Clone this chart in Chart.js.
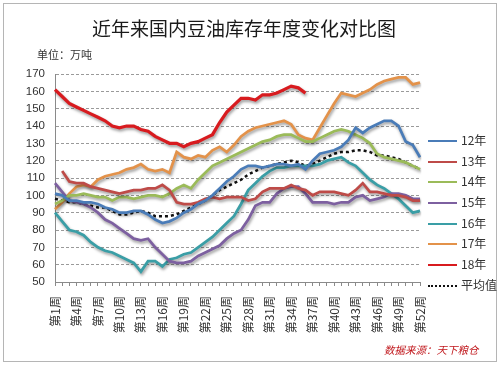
<!DOCTYPE html>
<html>
<head>
<meta charset="utf-8">
<script src="https://cdn.jsdelivr.net/npm/chart.js@4.4.0/dist/chart.umd.min.js"></script>
<style>
  body { margin: 0; background: #fff; }
  #wrap { position: relative; width: 500px; height: 365px; font-family: "Noto Sans CJK SC", "Liberation Sans", sans-serif; }
  #frame { position: absolute; left: 3px; top: 3px; width: 494px; height: 359px; border: 1px solid #b5b5b5; box-sizing: border-box; }
  #title { position: absolute; left: 0; width: 488px; top: 14px; text-align: center; font-size: 19px; color: #1a1a1a; }
  #unit { position: absolute; left: 37px; top: 46px; font-size: 11px; color: #333; }
  #source { position: absolute; left: 384px; top: 342px; font-size: 10.5px; color: #c0161b; font-style: italic; }
  #legend { position: absolute; left: 428px; top: 0; }
  .item { position: absolute; left: 0; width: 70px; height: 16px; font-size: 12px; color: #333; }
  .item span.ln { position: absolute; left: 0; top: 8px; width: 29px; height: 0; }
  .item span.tx { position: absolute; left: 33px; top: -1px; }
  canvas { position: absolute; left: 0; top: 0; }
</style>
</head>
<body>
<div id="wrap">
  <canvas id="stockChart" width="500" height="365"></canvas>
  <div id="frame"></div>
  <div id="title">近年来国内豆油库存年度变化对比图</div>
  <div id="unit">单位：万吨</div>
  <div id="legend"></div>
  <div id="source">数据来源：天下粮仓</div>
</div>
<script>
  // weeks on the x axis
  var weeks = ['第1周','第2周','第3周','第4周','第5周','第6周','第7周','第8周','第9周','第10周',
    '第11周','第12周','第13周','第14周','第15周','第16周','第17周','第18周','第19周','第20周',
    '第21周','第22周','第23周','第24周','第25周','第26周','第27周','第28周','第29周','第30周',
    '第31周','第32周','第33周','第34周','第35周','第36周','第37周','第38周','第39周','第40周',
    '第41周','第42周','第43周','第44周','第45周','第46周','第47周','第48周','第49周','第50周',
    '第51周','第52周'];
  // only every third week gets a label
  var weekTicks = ['第1周','第4周','第7周','第10周','第13周','第16周','第19周','第22周','第25周',
    '第28周','第31周','第34周','第37周','第40周','第43周','第46周','第49周','第52周'];
  var yTicks = [50, 60, 70, 80, 90, 100, 110, 120, 130, 140, 150, 160, 170];

  var seriesNames = ['12年', '13年', '14年', '15年', '16年', '17年', '18年', '平均值'];

  var y12 = [101,100,97,97,96,96,95,93,92,90, 90,91,91,89,86,84,85,87,90,92,
    95,97,100,104,108,111,115,117,117,116, 117,118,118,117,118,115,120,124,125,126,
    128,132,139,136,139,141,143,143,140,131, 129,122];
  var y13 = [null,114,108,107,107,105,104,103,102,101, 102,103,103,104,104,106,103,96,95,95,
    96,98,99,98,99,99,99,97,98,102, 104,104,104,106,104,103,100,102,102,102,
    101,100,103,107,102,102,101,100,100,99, 97,97];
  var y14 = [95,97,100,100,101,100,99,99,97,99, 99,98,99,100,100,99,101,104,106,104,
    109,113,117,119,121,123,125,127,129,131, 132,134,135,135,133,131,131,133,135,137,
    138,137,135,133,130,124,122,121,120,119, 117,115];
  var y15 = [107,102,97,96,95,93,90,86,84,81, 78,75,74,75,70,66,62,61,61,62,
    65,67,69,71,75,78,80,86,94,96, 96,101,104,105,105,101,96,96,96,95,
    96,96,99,100,97,98,99,101,101,100, 98,98];
  var y16 = [90,85,80,79,77,73,70,68,67,65, 63,61,56,62,62,59,63,64,66,67,
    70,73,76,80,84,88,95,103,107,111, 114,116,116,117,117,117,117,118,120,121,
    122,119,117,113,109,106,104,101,98,94, 90,91];
  var y17 = [92,96,101,105,106,105,109,111,112,113, 115,116,118,115,114,115,113,125,122,121,
    123,122,126,128,125,129,134,137,139,140, 141,142,143,141,135,133,132,139,146,153,
    159,158,157,159,161,164,166,167,168,168, 164,165];
  var y18 = [161,157,153,151,149,147,145,143,140,139, 140,140,138,137,134,132,130,130,128,130,
    131,133,135,142,148,152,156,156,155,158, 158,159,161,163,162,159];
  var yAvg = [98,97,96,96,95,94,93,93,91,89, 89,90,91,90,88,88,88,89,91,93,
    95,97,100,103,105,107,109,112,114,116, 117,118,119,120,119,117,118,120,122,124,
    125,125,126,126,125,123,123,122,121,119, 117,115];

  var colors = ['#4a7cb8', '#be4b48', '#9bbb59', '#7d60a0', '#3a9ea6', '#e3924a', '#d81b1f', '#111'];

  function line(i, data, width) {
    return {
      label: seriesNames[i],
      data: data,
      borderColor: colors[i],
      backgroundColor: colors[i],
      borderWidth: width,
      pointRadius: 0,
      fill: false,
      tension: 0,
      spanGaps: false
    };
  }

  var datasets = [
    line(0, y12, 2.75), line(1, y13, 2.75), line(2, y14, 2.75), line(3, y15, 2.75),
    line(4, y16, 2.75), line(5, y17, 2.75), line(6, y18, 3.25)
  ];
  var avgSet = line(7, yAvg, 2.5);
  avgSet.borderDash = [3, 3];
  datasets.push(avgSet);

  // soft drop shadow under the coloured lines, like the Excel original
  var shadowPlugin = {
    id: 'lineShadow',
    beforeDatasetDraw: function(chart, args) {
      if (args.index === 7) return;
      var c = chart.ctx;
      c.save();
      c.shadowColor = 'rgba(0,0,0,0.4)';
      c.shadowBlur = 3;
      c.shadowOffsetX = 1;
      c.shadowOffsetY = 2;
    },
    afterDatasetDraw: function(chart, args) {
      if (args.index === 7) return;
      chart.ctx.restore();
    }
  };

  var ctx = document.getElementById('stockChart').getContext('2d');
  var stockChart = new Chart(ctx, {
    type: 'line',
    data: { labels: weeks, datasets: datasets },
    plugins: [shadowPlugin],
    options: {
      responsive: false,
      animation: false,
      layout: { padding: { left: 15, right: 80, top: 74, bottom: 22 } },
      plugins: { legend: { display: false }, title: { display: false }, tooltip: { enabled: false } },
      scales: {
        x: {
          offset: false,
          afterFit: function(scale) { scale.height = 61; },
          grid: { drawOnChartArea: false, drawTicks: true, tickLength: 4, color: '#8a8a8a' },
          border: { color: '#8a8a8a' },
          ticks: {
            autoSkip: false, maxRotation: 90, minRotation: 90, padding: 10,
            color: '#333', font: { size: 12, family: '"Noto Sans CJK SC", "Liberation Sans", sans-serif' },
            callback: function(v, i) {
              return weekTicks.indexOf(weeks[i]) >= 0 ? weeks[i] : '';
            }
          }
        },
        y: {
          min: yTicks[0], max: yTicks[yTicks.length - 1],
          afterFit: function(scale) { scale.width = 40; },
          afterBuildTicks: function(scale) { scale.ticks = yTicks.map(function(v) { return { value: v }; }); },
          grid: { color: '#9a9a9a', drawTicks: false },
          border: { color: '#8a8a8a', dash: [3, 2] },
          ticks: { padding: 10, color: '#333', font: { size: 11.5, family: '"Liberation Sans", Arial, sans-serif' } }
        }
      }
    }
  });

  // legend on the right, built from the datasets
  var legendTops = [132, 153, 173, 194, 215, 235, 256, 277];
  var legend = document.getElementById('legend');
  stockChart.data.datasets.forEach(function(ds, i) {
    var item = document.createElement('div');
    item.className = 'item';
    item.style.top = legendTops[i] + 'px';
    var ln = document.createElement('span');
    ln.className = 'ln';
    ln.style.borderTop = (i === 7 ? '2px dotted ' : '2px solid ') + ds.borderColor;
    var tx = document.createElement('span');
    tx.className = 'tx';
    tx.textContent = ds.label;
    item.appendChild(ln);
    item.appendChild(tx);
    legend.appendChild(item);
  });
</script>
</body>
</html>
